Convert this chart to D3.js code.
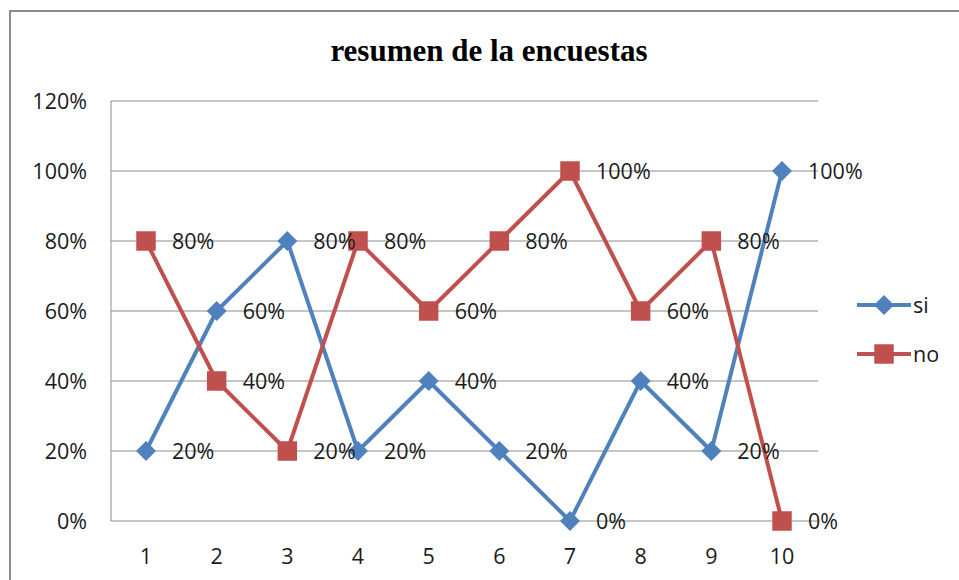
<!DOCTYPE html>
<html>
<head>
<meta charset="utf-8">
<script src="https://cdn.jsdelivr.net/npm/d3@7"></script>
<style>
  body { margin: 0; background: #fff; }
  text { font-family: "Open Sans", "Liberation Sans", sans-serif; }
</style>
</head>
<body>
<div id="chart"></div>
<script>
var categories = ["1", "2", "3", "4", "5", "6", "7", "8", "9", "10"];
var siValues = [0.2, 0.6, 0.8, 0.2, 0.4, 0.2, 0, 0.4, 0.2, 1.0];
var noValues = [0.8, 0.4, 0.2, 0.8, 0.6, 0.8, 1.0, 0.6, 0.8, 0];
var yTicks = [0, 0.2, 0.4, 0.6, 0.8, 1.0, 1.2];
var seriesNames = ["si", "no"];

var width = 959, height = 580;
var svg = d3.select("#chart").append("svg")
    .attr("width", width).attr("height", height);

// chart frame
svg.append("rect")
    .attr("x", 10).attr("y", 11)
    .attr("width", 1000).attr("height", 1000)
    .attr("fill", "none").attr("stroke", "#8c8c8c").attr("stroke-width", 2);

var x = d3.scalePoint().domain(categories).range([146, 782]);
var y = d3.scaleLinear().domain([0, 1.2]).range([521, 101]);
var fmt = d3.format(".0%");

// square diamond (equal width and height)
var diamond = {
  draw: function(ctx, size){
    var r = Math.sqrt(size) / 2;
    ctx.moveTo(0, -r); ctx.lineTo(r, 0); ctx.lineTo(0, r); ctx.lineTo(-r, 0); ctx.closePath();
  }
};

// gridlines
svg.selectAll(".grid").data(yTicks).enter().append("line")
    .attr("x1", 111).attr("x2", 818)
    .attr("y1", function(d){ return y(d) }).attr("y2", function(d){ return y(d) })
    .attr("stroke", "#8c8c8c").attr("stroke-width", 1);

svg.append("line")
    .attr("x1", 111).attr("x2", 111).attr("y1", 101).attr("y2", 521)
    .attr("stroke", "#8c8c8c").attr("stroke-width", 1);

// y labels
svg.selectAll(".ylab").data(yTicks).enter().append("text")
    .attr("x", 87).attr("y", function(d){ return y(d) })
    .attr("dy", "0.35em").attr("text-anchor", "end")
    .attr("font-size", 21.5).attr("fill", "#1a1a1a")
    .text(function(d){ return fmt(d) });

// x labels
svg.selectAll(".xlab").data(categories).enter().append("text")
    .attr("x", function(d){ return x(d) }).attr("y", 556)
    .attr("dy", "0.35em").attr("text-anchor", "middle")
    .attr("font-size", 21.5).attr("fill", "#1a1a1a")
    .text(function(d){ return d });

// title
svg.append("text")
    .attr("x", 489).attr("y", 61)
    .attr("text-anchor", "middle")
    .style("font-family", "'Liberation Serif', serif")
    .attr("font-weight", "bold").attr("font-size", 31)
    .text("resumen de la encuestas");

var series = [
  { name: seriesNames[0], values: siValues, color: "#4F81BD", shape: diamond, size: 400 },
  { name: seriesNames[1], values: noValues, color: "#C0504D", shape: d3.symbolSquare, size: 380 }
];

var line = d3.line()
    .x(function(d, i){ return x(categories[i]) })
    .y(function(d){ return y(d) });

series.forEach(function(s){
  svg.append("path")
      .attr("d", line(s.values))
      .attr("fill", "none").attr("stroke", s.color).attr("stroke-width", 4)
      .attr("stroke-linejoin", "round");
});

series.forEach(function(s){
  svg.selectAll(".m-" + s.name).data(s.values).enter().append("path")
      .attr("d", d3.symbol().type(s.shape).size(s.size))
      .attr("transform", function(d, i){ return "translate(" + x(categories[i]) + "," + y(d) + ")" })
      .attr("fill", s.color);
});

series.forEach(function(s){
  svg.selectAll(".l-" + s.name).data(s.values).enter().append("text")
      .attr("x", function(d, i){ return x(categories[i]) + 26 })
      .attr("y", function(d){ return y(d) })
      .attr("dy", "0.35em")
      .attr("font-size", 21.5).attr("fill", "#1a1a1a")
      .text(function(d){ return fmt(d) });
});

// legend
series.forEach(function(s, i){
  var ly = 305 + i * 49;
  svg.append("line")
      .attr("x1", 857).attr("x2", 911).attr("y1", ly).attr("y2", ly)
      .attr("stroke", s.color).attr("stroke-width", 4);
  svg.append("path")
      .attr("d", d3.symbol().type(s.shape).size(s.size))
      .attr("transform", "translate(884," + ly + ")")
      .attr("fill", s.color);
  svg.append("text")
      .attr("x", 913).attr("y", ly).attr("dy", "0.35em")
      .attr("font-size", 21.5).attr("fill", "#1a1a1a")
      .text(s.name);
});
</script>
</body>
</html>
